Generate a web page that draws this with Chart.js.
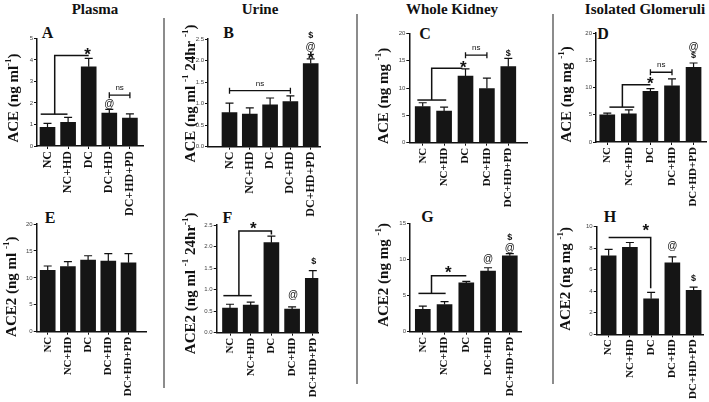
<!DOCTYPE html>
<html>
<head>
<meta charset="utf-8">
<script src="https://cdn.jsdelivr.net/npm/chart.js@4.4.1/dist/chart.umd.min.js"></script>
<style>
  body { margin: 0; background: #fff; }
  #fig { position: relative; width: 709px; height: 402px; overflow: hidden; background: #fff; }
  #fig canvas { position: absolute; }
  .head { position: absolute; font-family: "Liberation Serif", "DejaVu Serif", serif; font-weight: bold; font-size: 15px; color: #111; transform: translate(-50%, -50%); white-space: nowrap; }
  .letter { position: absolute; font-family: "Liberation Serif", serif; font-weight: bold; font-size: 16px; color: #111; transform: translate(-50%, -50%); }
  .sep { position: absolute; width: 1.5px; background: #8c8c8c; }
</style>
</head>
<body>
<div id="fig">
  <div class="head" style="left:95px;top:9px">Plasma</div>
  <div class="head" style="left:260px;top:9px">Urine</div>
  <div class="head" style="left:452px;top:9px">Whole Kidney</div>
  <div class="head" style="left:645px;top:9px">Isolated Glomeruli</div>
  <div class="sep" style="left:163px;top:18px;height:370px"></div>
  <div class="sep" style="left:356px;top:14px;height:370px"></div>
  <div class="sep" style="left:552px;top:14px;height:370px"></div>
  <div class="letter" style="left:47.5px;top:33px">A</div>
  <div class="letter" style="left:228.5px;top:33px">B</div>
  <div class="letter" style="left:425px;top:34px">C</div>
  <div class="letter" style="left:603px;top:34px">D</div>
  <div class="letter" style="left:50px;top:217.5px">E</div>
  <div class="letter" style="left:227.5px;top:217.5px">F</div>
  <div class="letter" style="left:427.5px;top:216.5px">G</div>
  <div class="letter" style="left:610px;top:216.5px">H</div>
</div>
<script>
// groups on every x axis
const groups = ['NC', 'NC+HD', 'DC', 'DC+HD', 'DC+HD+PD'];

// ACE, mean and upper error (SEM)
const acePlasma = [0.87, 1.1, 3.68, 1.53, 1.3];
const acePlasmaErr = [0.18, 0.23, 0.39, 0.17, 0.19];
const aceUrine = [0.79, 0.76, 0.97, 1.05, 1.93];
const aceUrineErr = [0.22, 0.14, 0.16, 0.13, 0.11];
const aceKidney = [6.6, 5.8, 12.2, 9.9, 13.9];
const aceKidneyErr = [0.7, 0.7, 1.3, 1.9, 1.5];
const aceGlom = [5.0, 5.15, 9.3, 10.3, 13.7];
const aceGlomErr = [0.3, 0.75, 0.5, 1.3, 0.8];

// ACE2
const ace2Plasma = [11.4, 12.1, 13.3, 13.1, 12.8];
const ace2PlasmaErr = [0.8, 0.9, 0.8, 1.4, 1.7];
const ace2Urine = [0.57, 0.64, 2.09, 0.55, 1.26];
const ace2UrineErr = [0.09, 0.07, 0.15, 0.05, 0.18];
const ace2Kidney = [3.1, 3.75, 6.75, 8.4, 10.5];
const ace2KidneyErr = [0.45, 0.4, 0.2, 0.45, 0.3];
const ace2Glom = [7.3, 8.08, 3.3, 6.65, 4.08];
const ace2GlomErr = [0.6, 0.45, 0.6, 0.55, 0.3];

// y tick labels
const ticks0to5 = [0, 1, 2, 3, 4, 5];
const ticks0to2p5 = [0, 0.5, 1, 1.5, 2, 2.5];
const ticks0to20 = [0, 5, 10, 15, 20];
const ticks0to15 = [0, 5, 10, 15];
const ticks0to10 = [0, 2, 4, 6, 8, 10];

// geometry is in page pixels; notes are in data units (x = group index)
const panels = [
  { box: [0, 0, 162, 225], axisX: 37, axisEnd: 143, y0: 146, yTop: 38.4, c0: 47.5, s: 20.6, lab: 12,
    vals: acePlasma, err: acePlasmaErr, ticks: ticks0to5, dec: 0,
    title: [['ACE (ng ml'], ['-1', 1], [')']], titleAt: [14, 98],
    notes: [
      { p: [[-0.33, 1.48], [0.97, 1.48]] },
      { p: [[0.35, 1.48], [0.35, 4.2], [2, 4.2]] },
      { t: '*', x: 1.95, y: 4.42 },
      { ns: [3, 4, 2.36] },
      { t: '@', x: 3, y: 1.95 }
    ] },
  { box: [166, 0, 189, 225], axisX: 208, axisEnd: 320, y0: 146.7, yTop: 39, c0: 229.5, s: 20.3, lab: 12,
    vals: aceUrine, err: aceUrineErr, ticks: ticks0to2p5, dec: 1,
    title: [['ACE (ng ml '], ['-1', 1], [' 24hr '], ['-1', 1], [')']], titleAt: [191, 93.5],
    notes: [
      { ns: [0, 3, 1.3] },
      { t: '*', x: 4, y: 2.13 },
      { t: '@', x: 4, y: 2.32 },
      { t: '$', x: 4, y: 2.59 }
    ] },
  { box: [358, 0, 192, 225], axisX: 409.3, axisEnd: 527, y0: 142.7, yTop: 33.3, c0: 422.7, s: 21.4, lab: 11,
    vals: aceKidney, err: aceKidneyErr, ticks: ticks0to20, dec: 0,
    title: [['ACE (ng mg '], ['-1', 1], [')']], titleAt: [384, 95.8],
    notes: [
      { p: [[-0.25, 7.8], [1.1, 7.8]] },
      { p: [[0.42, 7.8], [0.42, 13.6], [1.85, 13.6]] },
      { t: '*', x: 1.9, y: 14.3 },
      { ns: [2, 3, 16] },
      { t: '$', x: 4, y: 16.3 }
    ] },
  { box: [554, 0, 155, 225], axisX: 596, axisEnd: 707, y0: 142, yTop: 33, c0: 607.3, s: 21.6, lab: 11,
    vals: aceGlom, err: aceGlomErr, ticks: ticks0to20, dec: 0,
    title: [['ACE (ng mg '], ['-1', 1], [')']], titleAt: [567.5, 94.5],
    notes: [
      { p: [[0.1, 6.4], [1.25, 6.4]] },
      { p: [[0.7, 6.4], [0.7, 10.5], [2, 10.5]] },
      { t: '*', x: 2, y: 11.4 },
      { ns: [2, 3, 12.8] },
      { t: '$', x: 4, y: 15.9 },
      { t: '@', x: 4, y: 17.4 }
    ] },
  { box: [0, 200, 162, 202], axisX: 36.7, axisEnd: 146.7, y0: 331.7, yTop: 224, c0: 47.7, s: 20.2, lab: 11,
    vals: ace2Plasma, err: ace2PlasmaErr, ticks: ticks0to20, dec: 0,
    title: [['ACE2 (ng ml '], ['-1', 1], [')']], titleAt: [12.5, 286.7],
    notes: [] },
  { box: [166, 200, 189, 202], axisX: 216.7, axisEnd: 318.3, y0: 332.7, yTop: 225, c0: 230, s: 20.7, lab: 11,
    vals: ace2Urine, err: ace2UrineErr, ticks: ticks0to2p5, dec: 1,
    title: [['ACE2 (ng ml '], ['-1', 1], [' 24hr'], ['-1', 1], [')']], titleAt: [191, 283.3],
    notes: [
      { p: [[-0.32, 0.86], [1.05, 0.86]] },
      { p: [[0.43, 0.86], [0.43, 2.36], [2, 2.36], [2, 2.28]] },
      { t: '*', x: 1.13, y: 2.5 },
      { t: '@', x: 3.05, y: 0.87 },
      { t: '$', x: 4.05, y: 1.66 }
    ] },
  { box: [358, 200, 192, 202], axisX: 410, axisEnd: 521, y0: 331.7, yTop: 223.3, c0: 422.8, s: 21.75, lab: 11,
    vals: ace2Kidney, err: ace2KidneyErr, ticks: ticks0to15, dec: 0,
    title: [['ACE2 (ng mg '], ['-1', 1], [')']], titleAt: [384, 275],
    notes: [
      { p: [[-0.2, 5.3], [1.05, 5.3]] },
      { p: [[0.4, 5.3], [0.4, 7.75], [2, 7.75]] },
      { t: '*', x: 1.17, y: 8.6 },
      { t: '@', x: 3, y: 10.05 },
      { t: '@', x: 4, y: 11.6 },
      { t: '$', x: 4, y: 13.1 }
    ] },
  { box: [554, 200, 155, 202], axisX: 596.7, axisEnd: 707, y0: 334.3, yTop: 226.7, c0: 609, s: 21.9, lab: 11,
    vals: ace2Glom, err: ace2GlomErr, ticks: ticks0to10, dec: 0,
    title: [['ACE2 (ng mg '], ['-1', 1], [')']], titleAt: [566, 279],
    notes: [
      { p: [[0, 9], [1.98, 9], [1.98, 4.27]] },
      { t: '*', x: 1.75, y: 9.9 },
      { t: '@', x: 3, y: 8.2 },
      { t: '$', x: 4, y: 5.2 }
    ] }
];

function drawYTitle(ctx, segs, x, y, size) {
  const big = 'bold ' + size + 'px "Liberation Serif"';
  const small = 'bold ' + Math.round(size * 0.62) + 'px "Liberation Serif"';
  ctx.save();
  ctx.translate(x, y);
  ctx.rotate(-Math.PI / 2);
  ctx.textBaseline = 'middle';
  ctx.textAlign = 'left';
  ctx.fillStyle = '#111';
  let total = 0;
  segs.forEach(sg => { ctx.font = sg[1] ? small : big; total += ctx.measureText(sg[0]).width; });
  let px = -total / 2;
  segs.forEach(sg => {
    ctx.font = sg[1] ? small : big;
    ctx.fillText(sg[0], px, sg[1] ? -size * 0.36 : 0);
    px += ctx.measureText(sg[0]).width;
  });
  ctx.restore();
}

function extras(p) {
  return {
    id: 'extras',
    afterDatasetsDraw(chart) {
      const ctx = chart.ctx, xs = chart.scales.x, ys = chart.scales.y;
      ctx.save();
      ctx.strokeStyle = '#111';
      ctx.fillStyle = '#111';
      // error bars, upper side only
      ctx.lineWidth = 1.2;
      p.vals.forEach((v, i) => {
        const x = xs.getPixelForValue(i);
        const yb = ys.getPixelForValue(v), yt = ys.getPixelForValue(v + p.err[i]);
        ctx.beginPath();
        ctx.moveTo(x, yb); ctx.lineTo(x, yt);
        ctx.moveTo(x - 4, yt); ctx.lineTo(x + 4, yt);
        ctx.stroke();
      });
      // significance marks
      p.notes.forEach(n => {
        if (n.p) {
          ctx.lineWidth = 1.5;
          ctx.beginPath();
          n.p.forEach((pt, k) => {
            const X = xs.getPixelForValue(pt[0]), Y = ys.getPixelForValue(pt[1]);
            k ? ctx.lineTo(X, Y) : ctx.moveTo(X, Y);
          });
          ctx.stroke();
        } else if (n.ns) {
          const x1 = xs.getPixelForValue(n.ns[0]), x2 = xs.getPixelForValue(n.ns[1]);
          const Y = ys.getPixelForValue(n.ns[2]);
          ctx.lineWidth = 1.3;
          ctx.beginPath();
          ctx.moveTo(x1, Y); ctx.lineTo(x2, Y);
          ctx.moveTo(x1, Y - 3); ctx.lineTo(x1, Y + 3);
          ctx.moveTo(x2, Y - 3); ctx.lineTo(x2, Y + 3);
          ctx.stroke();
          ctx.font = '8px "Liberation Sans"';
          ctx.textAlign = 'center';
          ctx.textBaseline = 'middle';
          ctx.fillText('ns', (x1 + x2) / 2, Y - 7);
        } else {
          const X = xs.getPixelForValue(n.x), Y = ys.getPixelForValue(n.y);
          ctx.textAlign = 'center';
          ctx.textBaseline = 'middle';
          if (n.t === '*') { ctx.font = 'bold 17px "Liberation Sans"'; ctx.fillText('*', X, Y + 4); }
          else if (n.t === '@') { ctx.font = '10px "Liberation Sans"'; ctx.fillText('@', X, Y); }
          else { ctx.font = 'bold 9px "Liberation Sans"'; ctx.fillText(n.t, X, Y); }
        }
      });
      ctx.restore();
      drawYTitle(ctx, p.title, p.titleAt[0] - p.box[0], p.titleAt[1] - p.box[1], 15);
    }
  };
}

function makePanel(p) {
  const [cx, cy, cw, ch] = p.box;
  const cv = document.createElement('canvas');
  cv.width = cw; cv.height = ch;
  cv.style.left = cx + 'px'; cv.style.top = cy + 'px';
  document.getElementById('fig').appendChild(cv);

  new Chart(cv, {
    type: 'bar',
    data: {
      datasets: [{
        data: p.vals.map((v, i) => ({ x: i, y: v })),
        backgroundColor: '#151515',
        borderWidth: 0,
        barThickness: 15
      }]
    },
    options: {
      responsive: false,
      animation: false,
      devicePixelRatio: 1,
      layout: { padding: { left: 0, top: p.yTop - cy, right: cx + cw - p.axisEnd, bottom: 0 } },
      plugins: { legend: { display: false }, tooltip: { enabled: false } },
      scales: {
        x: {
          type: 'linear',
          offset: false,
          min: (p.axisX - p.c0) / p.s,
          max: (p.axisEnd - p.c0) / p.s,
          afterBuildTicks: sc => { sc.ticks = groups.map((g, i) => ({ value: i })); },
          afterFit: sc => { sc.height = cy + ch - p.y0; },
          border: { color: '#111', width: 1.5 },
          grid: { drawOnChartArea: false, offset: false, color: '#111', tickLength: 3, lineWidth: 1 },
          ticks: {
            autoSkip: false, minRotation: 90, maxRotation: 90, padding: 2, color: '#111',
            font: { family: '"Liberation Serif"', size: p.lab, weight: 'bold' },
            callback: v => groups[v]
          }
        },
        y: {
          min: 0,
          max: p.ticks[p.ticks.length - 1],
          afterBuildTicks: sc => { sc.ticks = p.ticks.map(v => ({ value: v })); },
          afterFit: sc => { sc.width = p.axisX - cx; },
          border: { color: '#111', width: 1.5 },
          grid: { drawOnChartArea: false, color: '#111', tickLength: 3, lineWidth: 1 },
          ticks: {
            padding: 1, color: '#444',
            font: { family: '"Liberation Sans"', size: 6 },
            callback: v => v.toFixed(p.dec)
          }
        }
      }
    },
    plugins: [extras(p)]
  });
}

panels.forEach(makePanel);
</script>
</body>
</html>
